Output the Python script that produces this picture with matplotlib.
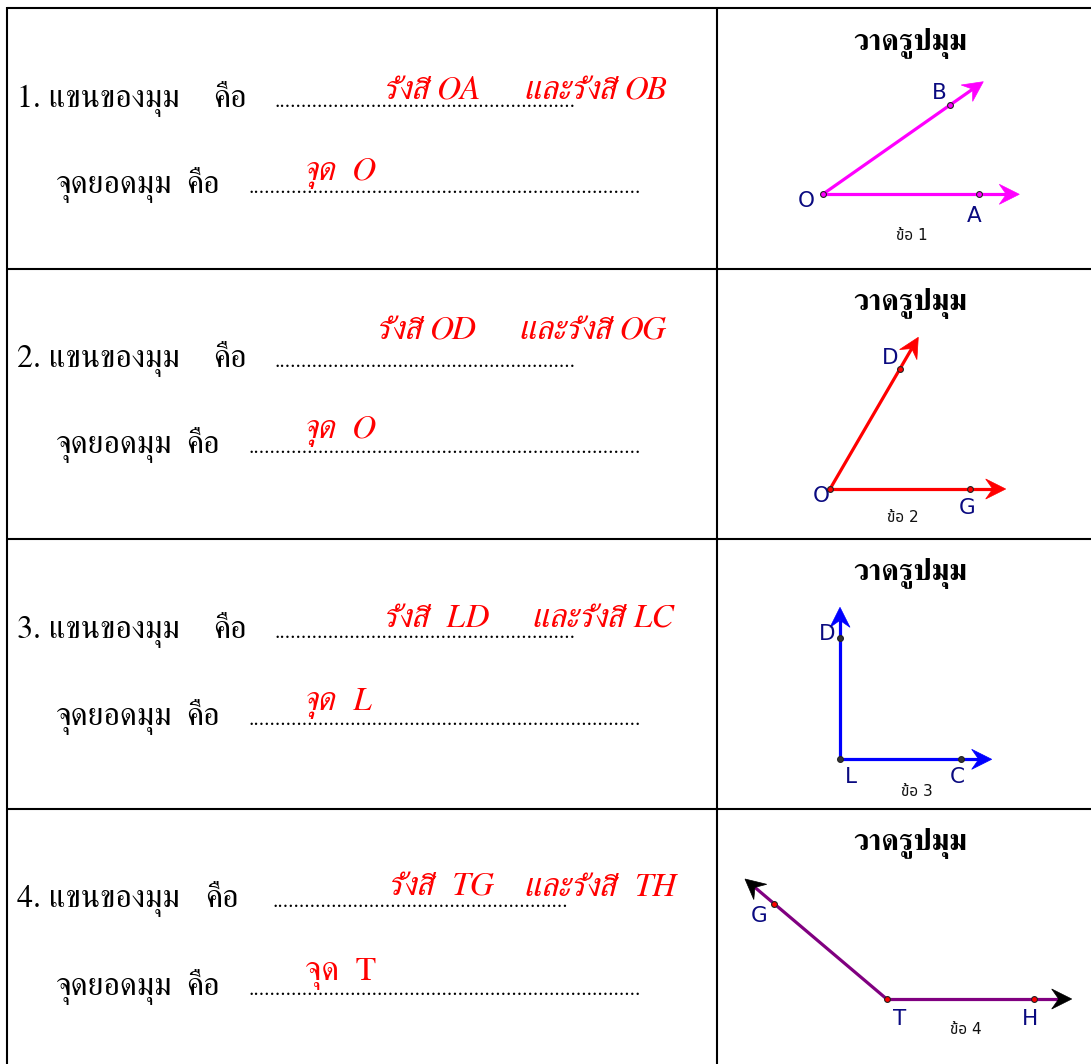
import matplotlib
matplotlib.use("Agg")
import numpy as np
import matplotlib.pyplot as plt
from matplotlib import font_manager as fm
from matplotlib.patches import Polygon
from fontTools.ttLib import TTFont

# ---------------- data ----------------
row_numbers = ["1.", "2.", "3.", "4."]
arm_label = "แขนของมุม"
is_word = "คือ"
vertex_label = "จุดยอดมุม"
answer_arm1 = ["รังสี OA", "รังสี OD", "รังสี  LD", "รังสี  TG"]
answer_arm2 = ["และรังสี OB", "และรังสี OG", "และรังสี LC", "และรังสี  TH"]
answer_vertex = ["จุด  O", "จุด  O", "จุด  L", "จุด  T"]
answer_vertex_italic = [True, True, True, False]
draw_title = "วาดรูปมุม"
captions = ["ข้อ 1", "ข้อ 2", "ข้อ 3", "ข้อ 4"]

# angle diagrams: vertex, point on ray 1, tip of ray 1, point on ray 2, tip of ray 2
vertex_name = ["O", "O", "L", "T"]
ray1_name = ["A", "G", "C", "H"]
ray2_name = ["B", "D", "D", "G"]
vertex_xy = [(822.7, 194.3), (830.0, 489.0), (840.0, 759.3), (886.7, 999.0)]
ray1_pt = [(979.3, 194.3), (970.0, 489.0), (961.0, 759.3), (1034.3, 999.0)]
ray1_tip = [(1019.3, 194.3), (1005.7, 489.0), (991.7, 759.3), (1071.7, 999.0)]
ray2_pt = [(950.0, 105.3), (900.0, 369.0), (840.0, 637.7), (774.0, 904.3)]
ray2_tip = [(983.3, 81.7), (918.3, 337.3), (840.0, 607.3), (745.0, 879.0)]
vertex_lbl_xy = [(806, 201), (821.7, 496), (851, 777), (900, 1019)]
ray1_lbl_xy = [(974, 216), (966.7, 508), (957, 777), (1030, 1019)]
ray2_lbl_xy = [(939, 93), (890, 358), (827.5, 634), (759, 915.7)]
caption_xy = [(911.7, 235), (903.3, 518), (916.7, 791.7), (965.7, 1030)]
ray_colors = ["#FF00FF", "#FF0000", "#0000FF", "#800080"]
head_colors = ["#FF00FF", "#FF0000", "#0000FF", "#000000"]
point_face = ["#FF00FF", "#FF0000", "#333333", "#FF0000"]

# ---------------- fonts ----------------
thai_faces = {}
for f in fm.fontManager.ttflist:
    try:
        cmap = TTFont(f.fname, fontNumber=0, lazy=True).getBestCmap()
    except Exception:
        continue
    if cmap and 0x0E21 in cmap and 0x0E04 in cmap:
        thai_faces.setdefault(f.name, set()).add(f.style)


def pick(prefs, style="normal"):
    for p in prefs:
        if p in thai_faces and style in thai_faces[p]:
            return p
    for p in prefs:
        if p in thai_faces:
            return p
    return next(iter(thai_faces)) if thai_faces else "DejaVu Sans"


serif_prefs = ["FreeSerif", "Taviraj", "Trirong", "Sarabun", "Noto Serif Thai", "Pridi"]
SERIF = pick(serif_prefs)
SERIF_IT = pick(serif_prefs, "italic")
SANS_TH = pick(["Noto Sans Thai", "IBM Plex Sans Thai", "Sarabun", "Anuphan", "Bai Jamjuree"])

BODY_FAM = [SERIF, "DejaVu Serif"]
RED_FAM = [SERIF_IT, "DejaVu Serif"]
SANS_FAM = ["DejaVu Sans", SANS_TH]

# ---------------- figure ----------------
W, H = 1091, 1064
fig = plt.figure(figsize=(W / 100, H / 100), dpi=100)
ax = fig.add_axes([0, 0, 1, 1])
ax.set_xlim(0, W)
ax.set_ylim(H, 0)
ax.axis("off")
renderer = fig.canvas.get_renderer()

# table grid
LW = 1.5
ax.plot([7, W], [8, 8], color="black", lw=LW, solid_capstyle="butt")
ax.plot([7, 7], [7.3, H], color="black", lw=LW, solid_capstyle="butt")
ax.plot([717, 717], [8, H], color="black", lw=LW, solid_capstyle="butt")
for yy in [268.5, 538.5, 808.5]:
    ax.plot([7, W], [yy, yy], color="black", lw=LW, solid_capstyle="butt")

# left column text
BODY_FS = 23
RED_FS = 24
base1 = [107, 367, 638, 907]
red1 = [100, 339, 627, 896]
base2 = [193, 453, 725, 995]
red2 = [180, 438, 710, 980]
is_x1 = [213, 213, 213, 205]
dots1 = [(275, 577), (275, 577), (275, 577), (272, 568)]
red1_x = [385, 378, 385, 390]
red1b_x = [525, 520, 533, 525]

DOT_FS = 15
_probe = ax.text(0, 0, "." * 100, fontsize=DOT_FS, family=BODY_FAM)
DOT_ADV = _probe.get_window_extent(renderer).width / 100.0
_probe.remove()


def dots(x0, x1, y):
    n = int(round((x1 - x0) / DOT_ADV))
    ax.text(x0, y, "." * n, fontsize=DOT_FS, family=BODY_FAM,
            va="baseline", ha="left", color="black")


for i in range(4):
    ax.text(17, base1[i], f"{row_numbers[i]} {arm_label}", fontsize=BODY_FS, family=BODY_FAM,
            va="baseline", ha="left")
    ax.text(is_x1[i], base1[i], is_word, fontsize=BODY_FS, family=BODY_FAM, va="baseline", ha="left")
    dots(dots1[i][0], dots1[i][1], base1[i])
    ax.text(red1_x[i], red1[i], answer_arm1[i], fontsize=RED_FS, family=RED_FAM, style="italic",
            color="#FF0000", va="baseline", ha="left")
    ax.text(red1b_x[i], red1[i], answer_arm2[i], fontsize=RED_FS, family=RED_FAM, style="italic",
            color="#FF0000", va="baseline", ha="left")

    ax.text(55, base2[i], vertex_label, fontsize=BODY_FS, family=BODY_FAM, va="baseline", ha="left")
    ax.text(186, base2[i], is_word, fontsize=BODY_FS, family=BODY_FAM, va="baseline", ha="left")
    dots(248, 643, base2[i])
    ax.text(305, red2[i], answer_vertex[i], fontsize=RED_FS,
            family=RED_FAM if answer_vertex_italic[i] else BODY_FAM,
            style="italic" if answer_vertex_italic[i] else "normal",
            color="#FF0000", va="baseline", ha="left")

# right column: titles + diagrams
title_base = [50, 310, 580, 850]


def ray(p0, tip, color, hcolor):
    p0 = np.array(p0, float)
    tip = np.array(tip, float)
    u = (tip - p0) / np.linalg.norm(tip - p0)
    n = np.array([-u[1], u[0]])
    L, Wd, notch = 20.0, 10.0, 7.0
    end = tip - (L - notch) * u
    ax.plot([p0[0], end[0]], [p0[1], end[1]], color=color, lw=2.3, solid_capstyle="butt", zorder=2)
    poly = np.array([tip, tip - L * u + Wd * n, tip - (L - notch) * u, tip - L * u - Wd * n])
    ax.add_patch(Polygon(poly, closed=True, facecolor=hcolor, edgecolor=hcolor, lw=0.5, zorder=3))


for i in range(4):
    ax.text(910, title_base[i], draw_title, fontsize=21.5, family=BODY_FAM, weight="bold",
            va="baseline", ha="center")
    ray(vertex_xy[i], ray1_tip[i], ray_colors[i], head_colors[i])
    ray(vertex_xy[i], ray2_tip[i], ray_colors[i], head_colors[i])
    for p in [vertex_xy[i], ray1_pt[i], ray2_pt[i]]:
        ax.plot([p[0]], [p[1]], marker="o", ms=4.2, mfc=point_face[i], mec="#222222", mew=0.8, zorder=4)
    for name, xy in [(vertex_name[i], vertex_lbl_xy[i]), (ray1_name[i], ray1_lbl_xy[i]),
                     (ray2_name[i], ray2_lbl_xy[i])]:
        ax.text(xy[0], xy[1], name, fontsize=15.5, family=SANS_FAM, color="#0A0A80",
                va="center", ha="center")
    ax.text(caption_xy[i][0], caption_xy[i][1], captions[i], fontsize=11, family=SANS_FAM,
            color="#111111", va="center", ha="center")

fig.savefig("out.png", dpi=100)
